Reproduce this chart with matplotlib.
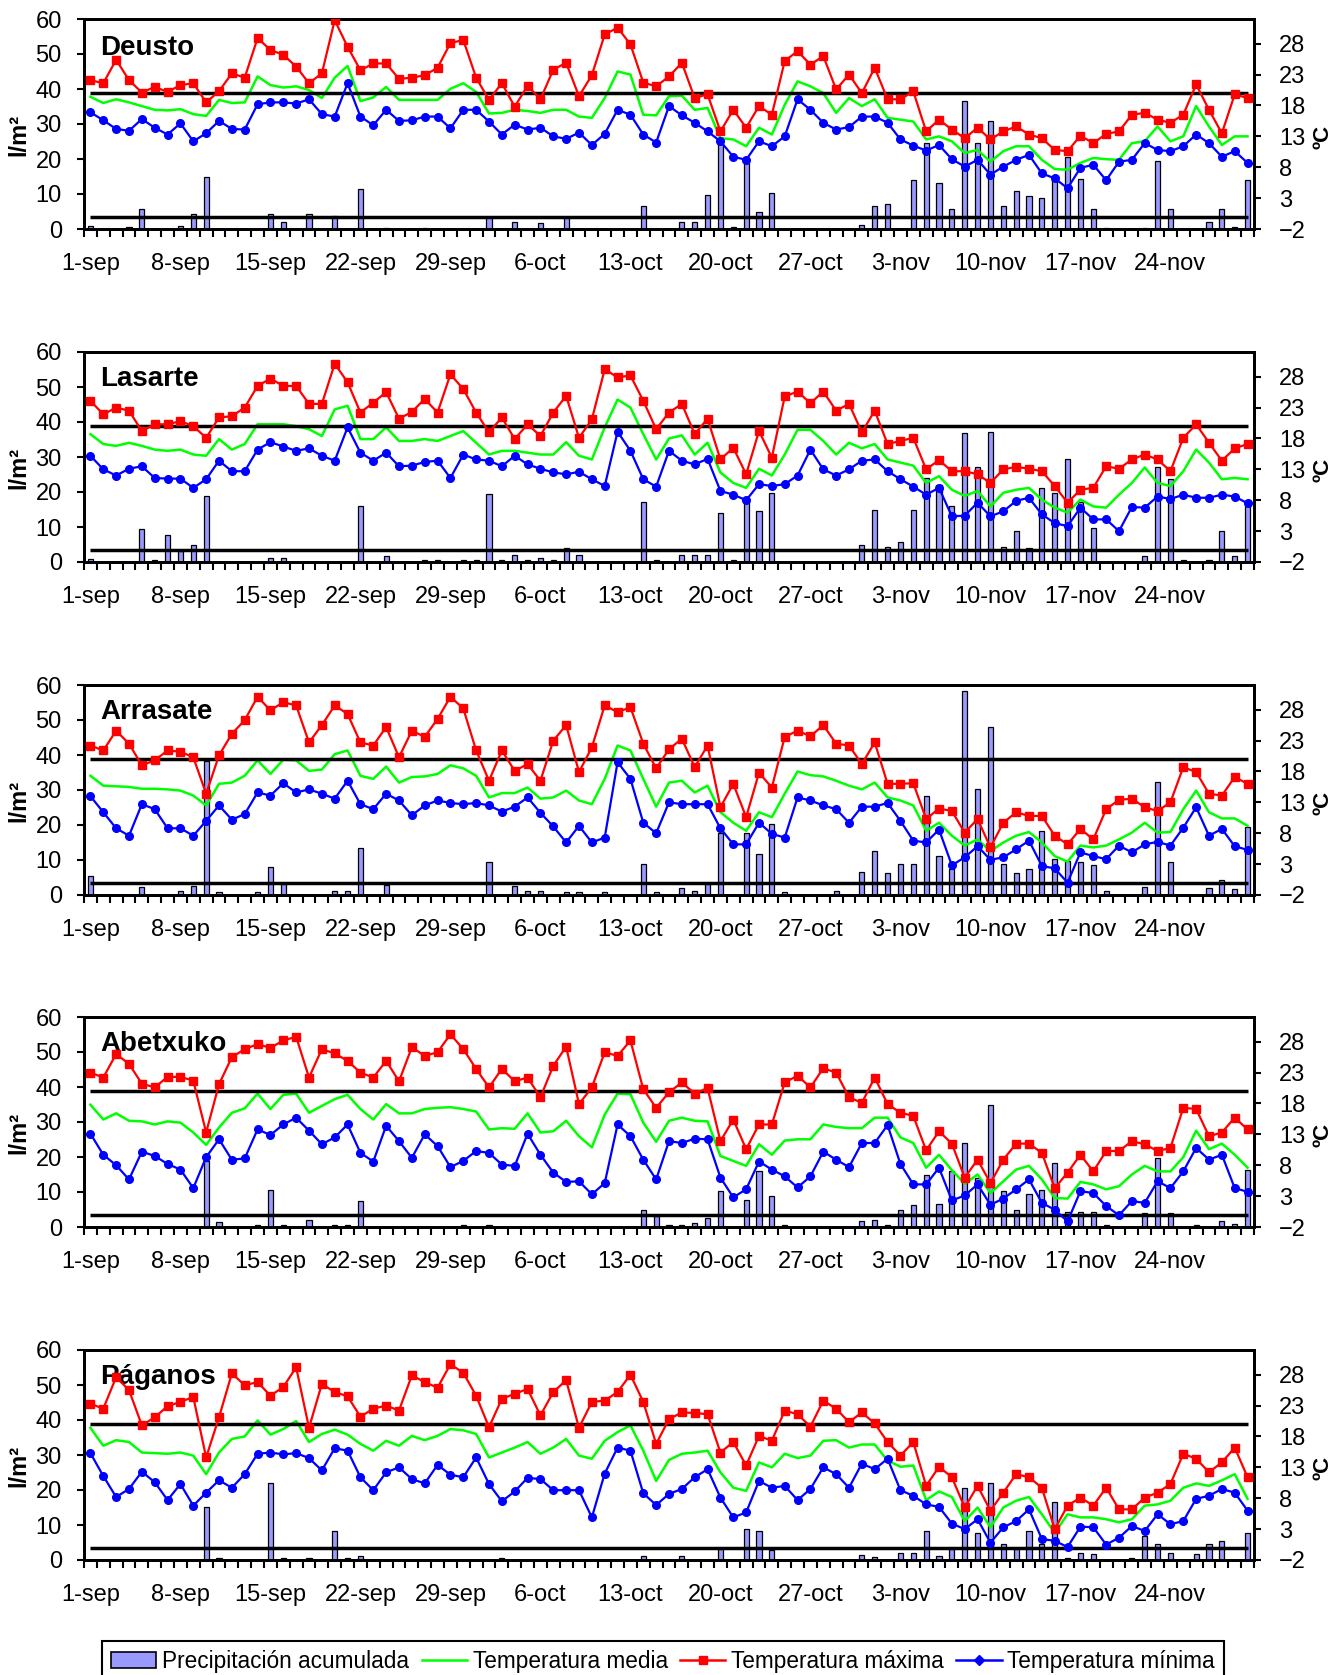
import numpy as np
import matplotlib.pyplot as plt
from matplotlib.lines import Line2D
from matplotlib.patches import Patch

plt.rcParams['font.family'] = ['Liberation Sans', 'DejaVu Sans']

# ---- data: 1-sep .. 30-nov (91 days) ----
tick_labels = ['1-sep', '8-sep', '15-sep', '22-sep', '29-sep', '6-oct', '13-oct',
               '20-oct', '27-oct', '3-nov', '10-nov', '17-nov', '24-nov']
stations = ['Deusto', 'Lasarte', 'Arrasate', 'Abetxuko', 'Páganos']
thresholds = [0, 20]  # reference lines, ºC

deusto_prec = [0.9, 0, 0, 0.5, 5.7, 0, 0, 1.0, 4.3, 15.0,
               0, 0, 0, 0, 4.3, 2.1, 0, 4.3, 0, 3.6,
               0, 11.3, 0, 0.3, 0, 0, 0.3, 0, 0, 0,
               0, 3.5, 0, 2.1, 0, 1.8, 0, 3.5, 0, 0,
               0, 0, 0, 6.6, 0, 0, 1.9, 1.9, 9.7, 24.5,
               0.7, 18.8, 5.0, 10.2, 0, 0, 0, 0, 0, 0,
               1.1, 6.6, 7.2, 0, 14.0, 24.5, 13.1, 5.7, 36.6, 24.7,
               30.9, 6.6, 10.9, 9.4, 8.8, 14.0, 20.7, 14.3, 5.7, 0.3,
               0, 0, 0.3, 19.5, 5.7, 0, 0, 2.1, 5.7, 0.7, 14.0]
deusto_tmax = [22.1, 21.6, 25.4, 22.1, 20.1, 21.0, 20.2, 21.3, 21.6, 18.5,
               20.3, 23.2, 22.5, 28.9, 27.0, 26.2, 24.3, 21.6, 23.2, 31.8,
               27.5, 23.7, 24.8, 24.8, 22.3, 22.5, 22.9, 24.1, 28.1, 28.6,
               22.5, 18.9, 21.6, 17.8, 21.2, 19.0, 23.8, 24.9, 19.5, 22.9,
               29.5, 30.6, 27.9, 21.7, 21.1, 22.7, 24.9, 19.2, 19.8, 13.8,
               17.3, 14.4, 17.9, 16.5, 25.2, 26.8, 24.6, 26.0, 20.6, 23.0,
               20.0, 24.1, 19.0, 19.0, 20.3, 13.8, 15.7, 14.1, 12.7, 14.4,
               12.5, 13.8, 14.6, 13.3, 12.7, 10.8, 10.6, 13.1, 11.9, 13.4,
               13.8, 16.5, 16.8, 15.7, 15.2, 16.5, 21.4, 17.3, 13.5, 19.8, 19.2]
deusto_tmed = [19.4, 18.4, 19.0, 18.5, 17.9, 17.3, 17.2, 17.4, 16.6, 16.3,
               18.9, 18.4, 18.5, 22.7, 21.3, 20.9, 21.1, 20.5, 19.2, 22.5,
               24.4, 18.7, 19.3, 21.0, 18.9, 18.9, 18.9, 18.9, 20.7, 21.6,
               20.2, 16.7, 16.8, 17.3, 17.1, 16.8, 17.3, 17.3, 16.2, 16.0,
               19.2, 23.5, 23.0, 16.5, 16.4, 19.5, 19.6, 17.3, 17.6, 12.7,
               12.5, 11.4, 14.4, 13.3, 18.1, 21.9, 21.1, 20.0, 16.8, 19.2,
               17.9, 19.0, 16.0, 15.7, 15.4, 12.5, 13.0, 12.2, 10.3, 10.8,
               8.9, 10.6, 11.4, 11.4, 9.2, 7.7, 7.6, 8.7, 9.5, 9.3,
               9.2, 11.9, 12.2, 14.6, 12.2, 13.0, 17.9, 14.6, 11.6, 13.0, 13.0]
deusto_tmin = [16.9, 15.6, 14.2, 13.9, 15.8, 14.4, 13.3, 15.1, 12.2, 13.5,
               15.5, 14.2, 14.1, 18.2, 18.5, 18.5, 18.3, 19.0, 16.6, 16.2,
               21.6, 16.2, 14.8, 17.3, 15.5, 15.6, 16.2, 16.2, 14.3, 17.3,
               17.3, 15.4, 13.3, 14.9, 14.1, 14.4, 13.0, 12.6, 13.6, 11.6,
               13.4, 17.3, 16.5, 13.3, 12.0, 17.9, 16.4, 15.2, 13.8, 12.2,
               9.7, 9.2, 12.2, 11.4, 13.0, 19.0, 17.3, 15.2, 14.1, 14.5,
               16.2, 16.2, 15.2, 12.5, 11.5, 10.7, 11.6, 9.3, 8.1, 9.2,
               6.8, 8.1, 9.2, 10.0, 7.0, 6.2, 4.6, 7.9, 8.4, 5.9,
               8.9, 9.2, 11.9, 10.8, 10.6, 11.4, 13.3, 11.9, 9.7, 10.6, 8.7]

lasarte_prec = [0.9, 0, 0, 0, 9.3, 0.7, 7.8, 3.1, 5.0, 18.8,
                0, 0, 0, 0, 1.1, 1.1, 0, 0, 0, 0,
                0, 16.1, 0, 1.8, 0, 0, 0.7, 0.7, 0, 0.5,
                0.7, 19.3, 0.5, 2.1, 0.7, 1.1, 0.5, 4.0, 2.1, 0,
                0, 0, 0, 17.1, 0.5, 0, 2.1, 2.1, 2.1, 14.0,
                0.5, 17.1, 14.5, 19.8, 0, 0, 0, 0, 0, 0,
                5.0, 15.0, 4.3, 5.7, 15.0, 24.0, 22.0, 16.0, 36.9, 27.2,
                37.1, 4.3, 8.8, 4.0, 21.2, 19.8, 29.5, 17.1, 9.7, 0,
                0, 0, 1.6, 27.2, 23.8, 0.5, 0, 0.5, 8.8, 1.8, 15.9]
lasarte_tmax = [24.1, 21.9, 23.0, 22.5, 19.2, 20.3, 20.3, 20.8, 20.0, 18.1,
                21.4, 21.6, 23.0, 26.5, 27.7, 26.5, 26.5, 23.6, 23.6, 30.1,
                27.1, 22.2, 23.8, 25.5, 21.2, 22.3, 24.4, 22.2, 28.4, 26.0,
                22.2, 19.0, 21.4, 17.9, 20.3, 18.4, 22.2, 24.9, 18.1, 21.1,
                29.2, 27.9, 28.2, 24.1, 19.5, 22.2, 23.6, 18.7, 21.2, 14.6,
                16.5, 12.2, 19.2, 14.9, 24.8, 25.6, 23.7, 25.6, 22.5, 23.6,
                19.0, 22.5, 17.1, 17.6, 18.1, 13.0, 14.5, 12.7, 12.7, 12.2,
                10.8, 13.0, 13.4, 13.1, 12.7, 10.3, 7.6, 9.7, 10.0, 13.5,
                13.1, 14.6, 15.4, 14.6, 12.7, 18.1, 20.3, 17.3, 14.4, 16.4, 17.1]
lasarte_tmed = [18.7, 17.1, 16.8, 17.3, 16.8, 16.2, 16.0, 16.2, 15.4, 15.2,
                17.9, 16.2, 17.1, 20.3, 20.3, 20.3, 20.0, 19.5, 18.4, 22.7,
                23.3, 17.9, 17.9, 19.8, 17.6, 17.6, 17.9, 17.6, 18.4, 19.2,
                17.3, 15.4, 16.0, 16.0, 15.7, 15.4, 15.4, 17.4, 15.2, 14.6,
                19.8, 24.3, 23.0, 18.7, 14.6, 18.0, 18.5, 15.4, 17.3, 12.5,
                10.8, 10.0, 13.1, 12.0, 15.4, 19.4, 19.4, 17.6, 15.4, 17.3,
                16.4, 17.1, 14.6, 14.1, 13.6, 10.8, 11.9, 9.7, 8.7, 9.5,
                7.0, 9.2, 9.7, 10.0, 8.1, 6.8, 6.0, 8.1, 7.0, 6.8,
                8.9, 10.8, 13.3, 10.8, 10.3, 12.7, 16.2, 14.1, 11.4, 11.6, 11.4]
lasarte_tmin = [15.2, 13.0, 12.0, 13.1, 13.5, 11.6, 11.5, 11.5, 10.0, 11.4,
                14.4, 12.7, 12.7, 16.2, 17.4, 16.7, 16.0, 16.4, 15.2, 14.4,
                19.8, 15.7, 14.4, 15.7, 13.5, 13.6, 14.2, 14.4, 11.6, 15.4,
                14.6, 14.4, 13.5, 15.2, 13.8, 13.1, 12.5, 12.2, 12.6, 11.4,
                10.3, 19.1, 16.0, 11.4, 10.2, 16.0, 14.4, 13.8, 14.7, 9.5,
                8.9, 8.0, 10.6, 10.3, 10.6, 12.0, 16.2, 13.0, 12.0, 13.0,
                14.4, 14.6, 12.7, 11.4, 10.2, 8.9, 10.0, 5.4, 5.5, 7.6,
                5.4, 6.2, 7.9, 8.4, 5.7, 4.3, 3.8, 6.8, 4.9, 4.9,
                3.0, 6.9, 6.8, 8.6, 8.2, 8.9, 8.4, 8.4, 8.9, 8.6, 7.5]

arrasate_prec = [5.4, 0, 0, 0, 2.4, 0, 0, 1.1, 2.6, 38.4,
                 0.9, 0, 0, 0.9, 8.1, 3.1, 0, 0, 0, 1.1,
                 1.1, 13.5, 0, 2.8, 0, 0, 0, 0, 0, 0,
                 0, 9.4, 0, 2.6, 1.1, 1.1, 0, 0.9, 0.9, 0,
                 0.9, 0, 0, 8.8, 0.9, 0, 2.1, 1.1, 3.1, 17.8,
                 0, 17.8, 11.6, 20.2, 0.9, 0, 0, 0, 1.1, 0,
                 6.6, 12.6, 6.4, 8.8, 8.8, 28.3, 11.2, 7.5, 58.4, 30.2,
                 47.9, 8.8, 6.4, 7.3, 18.3, 10.2, 9.7, 9.3, 8.5, 1.1,
                 0, 0, 2.4, 32.3, 9.4, 0, 0, 2.1, 4.3, 1.8, 19.3]
arrasate_tmax = [22.2, 21.4, 24.6, 22.5, 19.0, 19.8, 21.4, 21.2, 20.3, 14.4,
                 20.6, 24.1, 26.3, 30.1, 27.9, 29.2, 28.7, 22.7, 25.5, 28.7,
                 27.3, 22.7, 22.2, 25.2, 20.3, 24.6, 23.6, 26.5, 30.1, 28.2,
                 21.4, 16.5, 21.4, 18.1, 19.2, 16.5, 23.0, 25.5, 17.9, 21.9,
                 28.7, 27.6, 28.4, 22.5, 18.5, 21.6, 23.3, 18.7, 22.2, 12.2,
                 16.0, 10.6, 17.8, 15.4, 23.6, 24.6, 23.7, 25.5, 22.5, 22.2,
                 19.2, 22.7, 16.0, 16.0, 16.1, 10.3, 12.0, 11.6, 8.1, 10.3,
                 5.7, 9.7, 11.4, 10.8, 10.8, 7.6, 6.2, 8.7, 7.0, 11.9,
                 13.4, 13.6, 12.2, 11.6, 13.0, 18.7, 17.9, 14.4, 14.1, 17.1, 16.0]
arrasate_tmed = [17.3, 15.7, 15.6, 15.5, 15.2, 15.2, 15.1, 14.9, 14.1, 12.5,
                 16.0, 16.2, 17.3, 19.8, 17.6, 19.9, 19.8, 18.1, 18.3, 20.8,
                 21.4, 17.3, 16.8, 18.8, 16.2, 17.1, 17.2, 17.6, 19.0, 18.5,
                 17.3, 13.8, 14.5, 14.5, 15.4, 13.6, 13.8, 14.9, 13.3, 12.7,
                 16.8, 22.2, 21.4, 16.8, 12.3, 16.2, 16.5, 14.6, 15.7, 11.4,
                 9.7, 8.4, 11.4, 10.6, 14.4, 18.0, 17.4, 17.2, 16.5, 15.7,
                 15.1, 16.2, 13.8, 13.3, 12.5, 8.4, 9.7, 7.6, 6.0, 7.0,
                 5.1, 6.5, 7.6, 8.2, 6.5, 4.3, 3.4, 6.0, 5.7, 6.0,
                 7.0, 8.1, 9.7, 8.1, 8.2, 11.9, 14.9, 11.4, 10.4, 10.4, 9.2]
arrasate_tmin = [14.0, 11.4, 8.8, 7.6, 12.7, 11.9, 8.8, 8.8, 7.6, 10.0,
                 12.5, 10.2, 11.1, 14.6, 14.1, 16.1, 14.6, 15.1, 14.4, 13.6,
                 16.5, 12.7, 11.9, 14.4, 13.3, 10.9, 12.5, 13.3, 12.9, 12.7,
                 12.9, 12.5, 11.5, 12.3, 13.8, 11.3, 9.1, 6.5, 9.2, 6.5,
                 7.3, 19.5, 16.8, 9.7, 8.0, 13.0, 12.7, 12.7, 12.7, 8.8,
                 6.2, 6.2, 9.7, 7.9, 7.3, 13.8, 13.3, 12.5, 11.9, 9.7,
                 12.3, 12.3, 12.9, 10.0, 6.8, 6.5, 8.6, 2.8, 4.1, 5.9,
                 3.7, 4.1, 5.4, 6.8, 2.7, 2.3, 0.0, 4.9, 4.3, 3.8,
                 6.0, 4.9, 6.2, 6.6, 6.0, 8.9, 12.2, 7.6, 8.7, 5.9, 5.3]

abetxuko_prec = [0, 0, 0, 0, 0, 0, 0, 0, 0, 18.8,
                 1.4, 0, 0, 0.5, 10.7, 0.5, 0, 2.1, 0, 0.5,
                 0.5, 7.5, 0, 0, 0, 0, 0, 0, 0, 0.5,
                 0, 0.7, 0, 0, 0, 0, 0, 0, 0, 0,
                 0, 0, 0, 5.0, 3.1, 0.5, 0.7, 1.1, 2.6, 10.2,
                 0, 7.8, 15.9, 8.8, 0.7, 0, 0, 0, 0, 0,
                 1.6, 2.1, 0.5, 5.0, 6.4, 15.0, 6.6, 15.9, 24.0, 14.0,
                 35.0, 10.2, 5.0, 9.4, 10.7, 18.3, 4.3, 4.3, 4.3, 0.7,
                 0, 0, 4.0, 19.8, 4.0, 0, 0.7, 0, 1.6, 0.9, 16.4]
abetxuko_tmax = [23.0, 22.2, 26.0, 24.4, 21.2, 20.6, 22.3, 22.3, 21.7, 13.3,
                 21.1, 25.5, 26.8, 27.6, 27.0, 28.2, 28.8, 22.2, 26.8, 26.1,
                 24.9, 23.0, 22.2, 24.9, 21.6, 27.1, 25.7, 26.3, 29.2, 26.8,
                 23.6, 20.6, 23.6, 21.6, 22.2, 19.0, 24.1, 27.2, 17.9, 20.6,
                 26.3, 25.7, 28.2, 20.3, 17.3, 19.8, 21.4, 19.6, 20.5, 11.9,
                 15.4, 10.6, 14.6, 14.6, 21.4, 22.5, 20.6, 23.7, 23.0, 19.0,
                 18.1, 22.2, 17.9, 16.5, 16.0, 10.4, 13.5, 11.5, 6.0, 8.9,
                 5.1, 8.9, 11.5, 11.5, 10.0, 4.3, 6.8, 9.7, 7.0, 10.3,
                 10.3, 11.9, 11.4, 10.3, 10.8, 17.3, 17.1, 12.7, 13.3, 15.7, 13.8]
abetxuko_tmed = [17.8, 15.4, 16.4, 15.2, 15.1, 14.6, 15.1, 14.9, 13.3, 11.3,
                 14.1, 16.5, 17.2, 19.6, 17.1, 19.4, 19.6, 16.5, 17.6, 18.7,
                 19.4, 17.1, 15.4, 17.9, 16.4, 16.4, 17.1, 17.3, 17.4, 17.1,
                 16.7, 13.8, 14.0, 13.9, 16.4, 13.3, 13.5, 15.2, 12.7, 10.9,
                 16.2, 19.6, 19.5, 14.9, 11.8, 15.2, 15.7, 15.2, 15.1, 9.5,
                 8.7, 7.9, 11.4, 9.7, 12.0, 12.2, 12.2, 14.6, 14.2, 14.0,
                 14.0, 15.7, 15.7, 12.5, 11.6, 7.6, 9.7, 7.2, 5.0, 6.5,
                 3.5, 5.4, 7.3, 7.9, 5.7, 2.7, 2.6, 5.3, 4.9, 4.1,
                 4.6, 6.5, 7.9, 7.0, 7.0, 9.3, 13.6, 10.6, 11.5, 9.7, 7.6]
abetxuko_tmin = [13.1, 9.7, 8.0, 5.7, 10.2, 9.5, 8.2, 7.3, 4.3, 9.3,
                 12.2, 8.9, 9.1, 13.8, 12.9, 14.6, 15.7, 13.6, 11.4, 12.5,
                 14.6, 10.0, 8.6, 14.4, 11.9, 9.2, 13.0, 11.1, 7.7, 8.7,
                 10.3, 10.0, 8.1, 7.9, 13.1, 9.7, 6.8, 5.3, 5.4, 3.3,
                 5.1, 14.6, 12.7, 8.9, 5.7, 11.9, 11.6, 12.3, 12.2, 6.0,
                 2.8, 4.1, 8.6, 7.3, 6.2, 4.4, 6.2, 10.2, 8.9, 7.7,
                 11.6, 11.6, 14.5, 8.2, 4.9, 4.9, 7.6, 2.3, 3.1, 4.9,
                 1.6, 2.6, 4.1, 5.7, 1.9, 0.8, -1.1, 3.8, 3.5, 1.4,
                 -0.1, 2.2, 1.9, 5.4, 4.3, 7.0, 10.8, 8.9, 9.7, 4.3, 3.7]

paganos_prec = [0, 0, 0, 0, 0, 0, 0, 0, 0, 15.2,
                0.5, 0, 0, 0, 21.9, 0.5, 0, 0.5, 0, 8.3,
                0.7, 1.1, 0, 0, 0, 0, 0, 0, 0, 0,
                0, 0, 0.5, 0, 0, 0, 0, 0, 0, 0,
                0, 0, 0, 1.1, 0, 0, 1.1, 0, 0, 3.1,
                0, 8.8, 8.3, 2.8, 0, 0, 0, 0, 0, 0,
                1.4, 0.9, 0, 2.1, 2.1, 8.3, 1.1, 3.1, 20.7, 7.8,
                22.1, 4.5, 3.1, 8.3, 4.5, 16.7, 0.5, 2.1, 1.6, 0,
                0, 0.7, 6.9, 4.7, 2.1, 0, 1.6, 4.5, 5.4, 0, 7.8]
paganos_tmax = [23.3, 22.5, 27.6, 25.5, 19.8, 21.1, 22.9, 23.6, 24.4, 14.6,
                21.1, 28.2, 26.3, 26.8, 24.6, 26.0, 29.2, 19.4, 26.5, 25.2,
                24.5, 21.2, 22.5, 23.0, 22.2, 27.9, 26.8, 25.9, 29.7, 28.3,
                24.6, 19.5, 24.1, 24.9, 25.7, 21.4, 25.2, 27.1, 19.4, 23.6,
                23.8, 25.2, 28.0, 23.6, 16.8, 20.8, 21.9, 21.8, 21.6, 15.4,
                17.1, 13.3, 18.1, 17.3, 22.2, 21.6, 19.6, 23.8, 22.5, 20.3,
                21.9, 20.1, 17.1, 14.9, 17.1, 10.0, 13.1, 11.4, 6.5, 10.0,
                6.0, 8.9, 11.9, 11.4, 9.7, 3.0, 6.8, 8.1, 6.8, 9.7,
                6.2, 6.2, 8.1, 8.9, 10.3, 15.2, 14.4, 12.2, 13.8, 16.2, 11.4]
paganos_tmed = [19.4, 16.5, 17.4, 17.1, 15.4, 15.3, 15.2, 15.4, 14.9, 11.9,
                15.4, 17.6, 18.0, 20.6, 18.3, 19.2, 20.5, 17.1, 18.4, 19.1,
                18.3, 16.8, 15.7, 17.3, 16.5, 18.1, 17.4, 18.1, 19.2, 19.0,
                18.4, 14.6, 15.4, 16.2, 17.1, 15.2, 16.2, 17.6, 14.9, 14.4,
                17.3, 18.7, 19.8, 15.7, 10.8, 14.2, 15.2, 15.4, 15.7, 12.2,
                9.7, 9.2, 13.8, 13.0, 15.2, 14.5, 14.9, 17.3, 17.4, 16.2,
                16.7, 16.7, 14.1, 13.1, 13.3, 7.7, 9.1, 8.2, 4.3, 6.5,
                3.3, 6.5, 7.6, 8.2, 5.4, 2.4, 5.4, 4.9, 4.9, 4.6,
                4.1, 4.6, 6.8, 7.0, 7.6, 9.7, 10.4, 10.0, 10.9, 11.9, 7.9]
paganos_tmin = [15.3, 11.6, 8.2, 9.5, 12.3, 10.6, 7.7, 10.3, 6.8, 8.9,
                10.9, 9.7, 11.9, 15.2, 15.4, 15.1, 15.3, 14.5, 12.5, 16.1,
                15.7, 11.4, 9.3, 12.2, 13.0, 11.1, 10.4, 13.4, 11.8, 11.4,
                14.6, 10.3, 7.5, 9.1, 11.3, 11.1, 9.3, 9.3, 9.3, 4.9,
                12.0, 16.2, 15.7, 8.8, 6.9, 8.7, 9.5, 11.4, 12.7, 8.1,
                4.9, 5.7, 10.8, 9.7, 10.0, 7.7, 9.5, 13.0, 11.9, 9.7,
                13.6, 12.7, 14.4, 9.3, 8.4, 7.0, 6.6, 3.9, 3.0, 4.6,
                0.8, 3.3, 4.3, 6.2, 1.4, 1.1, 0.1, 3.4, 3.3, 0.5,
                1.6, 3.5, 2.7, 5.4, 3.8, 4.3, 7.9, 8.4, 9.5, 8.9, 6.0]

precs = [deusto_prec, lasarte_prec, arrasate_prec, abetxuko_prec, paganos_prec]
tmeds = [deusto_tmed, lasarte_tmed, arrasate_tmed, abetxuko_tmed, paganos_tmed]
tmaxs = [deusto_tmax, lasarte_tmax, arrasate_tmax, abetxuko_tmax, paganos_tmax]
tmins = [deusto_tmin, lasarte_tmin, arrasate_tmin, abetxuko_tmin, paganos_tmin]

BAR = '#9999FF'
GREEN = '#00FF00'
RED = '#FF0000'
BLUE = '#0000FF'

W, H = 1342, 1675
fig = plt.figure(figsize=(W / 100, H / 100), dpi=100)

panel_tops = [19, 352, 685, 1017, 1350]
panel_h = 210
ax_left, ax_w = 84, 1170

x = np.arange(len(deusto_prec))

for k, name in enumerate(stations):
    top = panel_tops[k]
    ax = fig.add_axes([ax_left / W, 1 - (top + panel_h) / H, ax_w / W, panel_h / H])
    ax.bar(x, precs[k], width=0.4, color=BAR, edgecolor='black', linewidth=0.9, zorder=2)
    ax.set_xlim(-0.5, len(x) - 0.5)
    ax.set_ylim(0, 60)
    ax.set_yticks(range(0, 61, 10))
    ax.set_xticks(x[::7])
    ax.set_xticklabels(tick_labels)
    ax.set_xticks(np.arange(-0.5, len(x), 1), minor=True)
    ax.tick_params(axis='x', which='major', length=0, pad=17, labelsize=17)
    ax.tick_params(axis='x', which='minor', length=6, width=1.5, direction='out')
    ax.tick_params(axis='y', length=5, width=1.5, direction='out', pad=11, labelsize=17)
    for s in ax.spines.values():
        s.set_linewidth(2)
    ax.set_ylabel('l/m²', fontsize=17, fontweight='bold')
    ax.yaxis.set_label_coords(-0.046, 0.45)
    ax.text(0.014, 0.87 if k else 0.86, name, transform=ax.transAxes,
            fontsize=20, fontweight='bold', va='center', ha='left', zorder=10)

    ax2 = ax.twinx()
    ax2.set_ylim(-2, 32)
    ax2.set_yticks(range(-2, 29, 5))
    ax2.tick_params(axis='y', length=5, width=1.5, direction='out', pad=13, labelsize=17)
    for s in ax2.spines.values():
        s.set_linewidth(2)
    ax2.plot(x, tmeds[k], color=GREEN, lw=1.8, zorder=3)
    ax2.hlines(thresholds, x[0], x[-1], colors='black', lw=2.5, zorder=4)
    ax2.plot(x, tmaxs[k], color=RED, lw=1.6, marker='s', ms=5.5, zorder=5)
    ax2.plot(x, tmins[k], color=BLUE, lw=1.6, marker='o', ms=5.5, zorder=6)
    ax2.set_ylabel('ºC', fontsize=16, fontweight='bold')
    ax2.yaxis.set_label_coords(1.050, 0.44)

handles = [Patch(facecolor=BAR, edgecolor='black', linewidth=1.2),
           Line2D([], [], color=GREEN, lw=1.8),
           Line2D([], [], color=RED, lw=1.8, marker='s', ms=6),
           Line2D([], [], color=BLUE, lw=1.8, marker='D', ms=5)]
labels = ['Precipitación acumulada', 'Temperatura media',
          'Temperatura máxima', 'Temperatura mínima']
leg = fig.legend(handles, labels, loc='lower center', bbox_to_anchor=(663 / W, -0.004),
                 ncol=4, fontsize=16.3, frameon=True, fancybox=False, framealpha=1,
                 edgecolor='black', handlelength=2.0, handletextpad=0.25,
                 columnspacing=0.55, borderpad=0.4, borderaxespad=0)
leg.get_frame().set_linewidth(1.5)

fig.savefig('out.png', dpi=100)
